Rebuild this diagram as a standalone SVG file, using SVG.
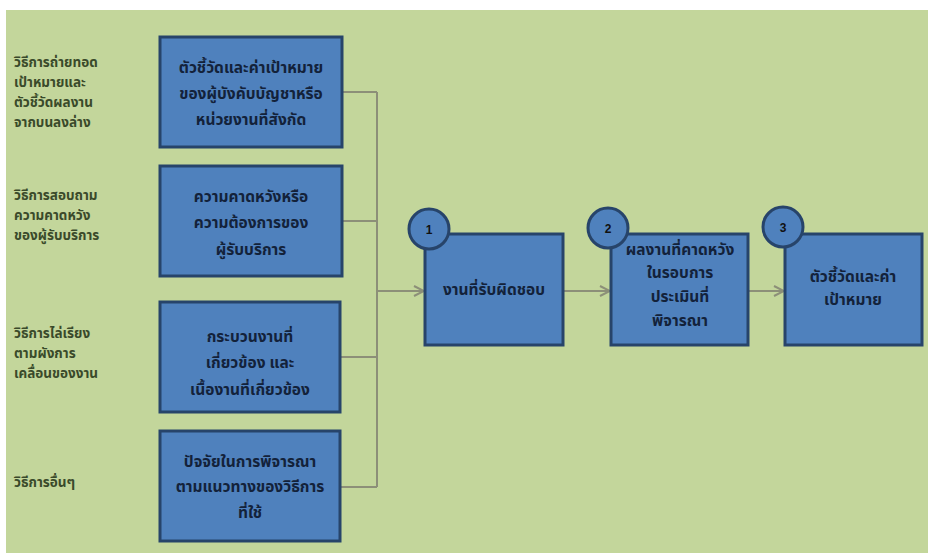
<svg xmlns="http://www.w3.org/2000/svg" width="935" height="559" viewBox="0 0 935 559">
<defs>
<style>
.bg{fill:#c3d69b}
.box{fill:#4f81bd;stroke:#27446a;stroke-width:3}
.circ{fill:#4f81bd;stroke:#27446a;stroke-width:3}
.lbl{font-family:"Noto Sans Thai","Noto Sans","DejaVu Sans",sans-serif;font-size:13.5px;font-weight:bold;fill:#3a4a2a}
.bt{font-family:"Noto Sans Thai","Noto Sans","DejaVu Sans",sans-serif;font-size:15.5px;font-weight:bold;fill:#13223a;text-anchor:middle}
.num{font-family:"Liberation Sans",sans-serif;font-size:12px;font-weight:bold;fill:#111;text-anchor:middle}
.con{fill:none;stroke:#8c8f78;stroke-width:2}
</style>
<marker id="arr" viewBox="0 0 12 12" refX="11" refY="6" markerWidth="12" markerHeight="12" markerUnits="userSpaceOnUse" orient="auto">
<path d="M1,1 L11,6 L1,11" fill="none" stroke="#8c8f78" stroke-width="2"/>
</marker>
</defs>
<rect x="0" y="0" width="935" height="559" fill="#ffffff"/>
<rect class="bg" x="6" y="10" width="922" height="543"/>

<g id="labels">
<text class="lbl" x="14" y="67">วิธีการถ่ายทอด</text>
<text class="lbl" x="14" y="87">เป้าหมายและ</text>
<text class="lbl" x="14" y="107">ตัวชี้วัดผลงาน</text>
<text class="lbl" x="14" y="127">จากบนลงล่าง</text>
<text class="lbl" x="14" y="200">วิธีการสอบถาม</text>
<text class="lbl" x="14" y="220">ความคาดหวัง</text>
<text class="lbl" x="14" y="240">ของผู้รับบริการ</text>
<text class="lbl" x="14" y="338">วิธีการไล่เรียง</text>
<text class="lbl" x="14" y="358">ตามผังการ</text>
<text class="lbl" x="14" y="378">เคลื่อนของงาน</text>
<text class="lbl" x="14" y="487">วิธีการอื่นๆ</text>
</g>

<g id="connectors">
<path class="con" d="M342,92 H377 M342,221 H377 M340,357 H377 M340,487 H377 M377,92 V487"/>
<path class="con" d="M377,291 H424" marker-end="url(#arr)"/>
<path class="con" d="M564,291 H610" marker-end="url(#arr)"/>
<path class="con" d="M749,291 H784" marker-end="url(#arr)"/>
</g>

<g id="src1">
<rect class="box" x="160" y="37" width="182" height="110"/>
<text class="bt" x="251" y="73">ตัวชี้วัดและค่าเป้าหมาย</text>
<text class="bt" x="251" y="99">ของผู้บังคับบัญชาหรือ</text>
<text class="bt" x="251" y="125">หน่วยงานที่สังกัด</text>
</g>
<g id="src2">
<rect class="box" x="160" y="166" width="182" height="110"/>
<text class="bt" x="251" y="202">ความคาดหวังหรือ</text>
<text class="bt" x="251" y="228">ความต้องการของ</text>
<text class="bt" x="251" y="255">ผู้รับบริการ</text>
</g>
<g id="src3">
<rect class="box" x="160" y="302" width="180" height="110"/>
<text class="bt" x="250" y="342">กระบวนงานที่</text>
<text class="bt" x="250" y="368">เกี่ยวข้อง และ</text>
<text class="bt" x="250" y="395">เนื้องานที่เกี่ยวข้อง</text>
</g>
<g id="src4">
<rect class="box" x="160" y="431" width="180" height="110"/>
<text class="bt" x="250" y="467">ปัจจัยในการพิจารณา</text>
<text class="bt" x="250" y="492">ตามแนวทางของวิธีการ</text>
<text class="bt" x="250" y="518">ที่ใช้</text>
</g>

<g id="step1">
<rect class="box" x="425" y="234" width="138" height="111"/>
<text class="bt" x="494" y="295">งานที่รับผิดชอบ</text>
<circle class="circ" cx="429" cy="229" r="20"/>
<text class="num" x="429" y="234">1</text>
</g>
<g id="step2">
<rect class="box" x="611" y="234" width="137" height="111"/>
<text class="bt" x="680" y="255">ผลงานที่คาดหวัง</text>
<text class="bt" x="680" y="278">ในรอบการ</text>
<text class="bt" x="680" y="302">ประเมินที่</text>
<text class="bt" x="680" y="326">พิจารณา</text>
<circle class="circ" cx="608" cy="228" r="20"/>
<text class="num" x="608" y="233">2</text>
</g>
<g id="step3">
<rect class="box" x="785" y="234" width="137" height="111"/>
<text class="bt" x="853" y="282">ตัวชี้วัดและค่า</text>
<text class="bt" x="853" y="305">เป้าหมาย</text>
<circle class="circ" cx="783" cy="227" r="20"/>
<text class="num" x="783" y="232">3</text>
</g>
</svg>
